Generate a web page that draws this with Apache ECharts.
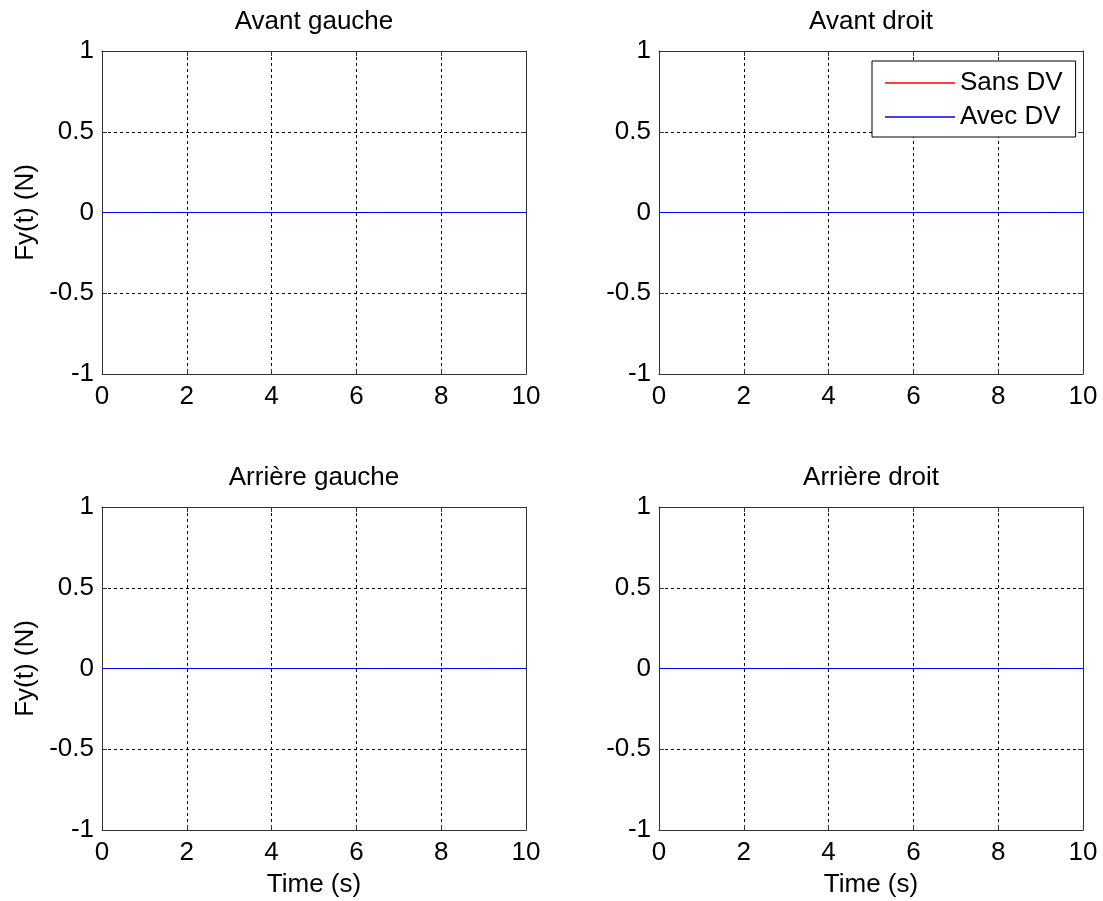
<!DOCTYPE html>
<html><head><meta charset="utf-8">
<script src="https://cdn.jsdelivr.net/npm/echarts@6/dist/echarts.min.js"></script>
<style>html,body{margin:0;padding:0;background:#fff}#c{width:1103px;height:901px}</style>
</head><body><div id="c"></div>
<script>
const panelTitles = ['Avant gauche', 'Avant droit', 'Arrière gauche', 'Arrière droit'];
const seriesNames = ['Sans DV', 'Avec DV'];
const timeS = [0, 1, 2, 3, 4, 5, 6, 7, 8, 9, 10];
const sansDV = [[0,0,0,0,0,0,0,0,0,0,0],[0,0,0,0,0,0,0,0,0,0,0],[0,0,0,0,0,0,0,0,0,0,0],[0,0,0,0,0,0,0,0,0,0,0]];
const avecDV = [[0,0,0,0,0,0,0,0,0,0,0],[0,0,0,0,0,0,0,0,0,0,0],[0,0,0,0,0,0,0,0,0,0,0],[0,0,0,0,0,0,0,0,0,0,0]];
const xTicks = [0, 2, 4, 6, 8, 10];
const yTicks = [-1, -0.5, 0, 0.5, 1];

const FONT = 'Liberation Sans, Arial, sans-serif';
const FS = 26;
const grids = [
  {left:102, top:51, width:424, height:323},
  {left:659, top:51, width:424, height:323},
  {left:102, top:507, width:424, height:323},
  {left:659, top:507, width:424, height:323}
];
const xAxis = [], yAxis = [], series = [], title = [];
const axLine = {show:true, onZero:false, lineStyle:{color:'#333', width:1}};
const axTick = {show:true, inside:true, length:5, lineStyle:{color:'#333'}};
grids.forEach((g, i) => {
  title.push({text: panelTitles[i], left: g.left + g.width/2, top: g.top - 42, textAlign:'center', padding:0,
    textStyle:{fontFamily:FONT, fontSize:FS, fontWeight:'normal', color:'#000'}});
  xAxis.push({gridIndex:i, type:'value', min:xTicks[0], max:xTicks[xTicks.length-1], interval:xTicks[1]-xTicks[0],
    position:'bottom',
    name: i >= 2 ? 'Time (s)' : '', nameLocation:'middle', nameGap:42,
    nameTextStyle:{fontFamily:FONT, fontSize:FS, color:'#000'},
    axisLine:axLine, axisTick:axTick,
    axisLabel:{fontFamily:FONT, fontSize:FS, color:'#000', margin:10},
    splitLine:{show:true, lineStyle:{color:'#000', type:[3,3], width:1}}});
  xAxis.push({gridIndex:i, type:'value', min:xTicks[0], max:xTicks[xTicks.length-1], interval:xTicks[1]-xTicks[0],
    position:'top', axisLine:axLine, axisTick:axTick,
    axisLabel:{show:false}, splitLine:{show:false}});
  yAxis.push({gridIndex:i, type:'value', min:yTicks[0], max:yTicks[yTicks.length-1], interval:0.5,
    position:'left',
    name: (i % 2 === 0) ? 'Fy(t) (N)' : '', nameLocation:'middle', nameGap:63,
    nameTextStyle:{fontFamily:FONT, fontSize:FS, color:'#000'},
    axisLine:axLine, axisTick:axTick,
    axisLabel:{fontFamily:FONT, fontSize:FS, color:'#000', margin:8},
    splitLine:{show:true, lineStyle:{color:'#000', type:[3,3], width:1}}});
  yAxis.push({gridIndex:i, type:'value', min:yTicks[0], max:yTicks[yTicks.length-1], interval:0.5,
    position:'right', axisLine:axLine, axisTick:axTick,
    axisLabel:{show:false}, splitLine:{show:false}});
  series.push({name:seriesNames[0], type:'line', xAxisIndex:2*i, yAxisIndex:2*i, symbol:'none', z:3,
    data: timeS.map((t, k) => [t, sansDV[i][k]]), lineStyle:{color:'#ff0000', width:1}, itemStyle:{color:'#ff0000'}});
  series.push({name:seriesNames[1], type:'line', xAxisIndex:2*i, yAxisIndex:2*i, symbol:'none', z:4,
    data: timeS.map((t, k) => [t, avecDV[i][k]]), lineStyle:{color:'#0000ff', width:1}, itemStyle:{color:'#0000ff'}});
});
const chart = echarts.init(document.getElementById('c'), null, {renderer:'canvas'});
chart.setOption({
  backgroundColor:'#fff',
  animation:false,
  title: title,
  grid: grids,
  xAxis: xAxis,
  yAxis: yAxis,
  legend: {data: seriesNames, orient:'vertical', left:872, top:61,
    backgroundColor:'#fff', borderColor:'#000', borderWidth:1,
    padding:[9, 13, 7, 13], itemGap:8, itemWidth:70, itemHeight:1.5, icon:'rect', itemTextGap:6,
    textStyle:{fontFamily:FONT, fontSize:FS, color:'#000'}, selectedMode:false},
  series: series
});
</script></body></html>
